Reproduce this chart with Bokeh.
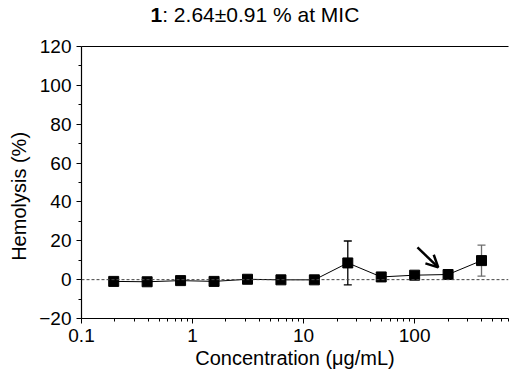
from bokeh.plotting import figure
from bokeh.layouts import column
from bokeh.models import (ColumnDataSource, Whisker, Span, Arrow, OpenHead,
                          LogAxis, FixedTicker, Range1d, TeeHead)
from bokeh.core.properties import value
from bokeh.embed import file_html
from bokeh.resources import INLINE

# ---- data ----
conc = [0.195, 0.39, 0.78, 1.5625, 3.125, 6.25, 12.5, 25, 50, 100, 200, 400]
hemolysis = [-0.9, -1.1, -0.5, -0.9, 0.2, -0.1, -0.1, 8.6, 1.4, 2.3, 2.64, 9.8]

err_conc_black = [25, 200]
err_mean_black = [8.6, 2.64]
err_sd_black = [11.3, 0.91]
err_conc_grey = [400]
err_mean_grey = [9.8]
err_sd_grey = [8.0]

arrow_x = [106, 163]
arrow_y = [16.6, 6.3]

x_major = [0.1, 1, 10, 100]
x_minor = [0.2, 0.3, 0.4, 0.5, 0.6, 0.7, 0.8, 0.9,
           2, 3, 4, 5, 6, 7, 8, 9,
           20, 30, 40, 50, 60, 70, 80, 90,
           200, 300, 400, 500, 600, 700]
x_labels = {0.1: "0.1", 1: "1", 10: "10", 100: "100"}
y_major = [-20, 0, 20, 40, 60, 80, 100, 120]
y_minor = [-10, 10, 30, 50, 70, 90, 110]

title_bold = "1"
title_rest = ": 2.64\u00b10.91 % at MIC"
x_title = "Concentration (\u03bcg/mL)"
y_title = "Hemolysis (%)"
y_title_pad = "\u00a0" * 5   # nudges the rotated label down, as in the reference

FONT = "Liberation Sans"
W, H_TITLE, H_MAIN = 510, 30, 347
FRAME_L, FRAME_R = 81, 508

# ---------------- title strip ----------------
t = figure(width=W, height=H_TITLE, x_range=Range1d(FRAME_L, FRAME_R), y_range=Range1d(0, H_TITLE),
           output_backend="svg", toolbar_location=None,
           min_border_left=0, min_border_right=0, min_border_top=0, min_border_bottom=0)
t.title = None
for a in list(t.below) + list(t.left):
    a.visible = False
t.grid.visible = False
t.outline_line_color = None
t.background_fill_color = "white"
t.border_fill_color = "white"
title_x0 = 150
title_mid = 16
t.text(x=[title_x0], y=[title_mid], text=[title_bold], text_font=value(FONT),
       text_font_size="21px", text_font_style="bold", text_color="black",
       text_baseline="middle", text_align="left")
t.text(x=[title_x0 + 11.7], y=[title_mid], text=[title_rest], text_font=value(FONT),
       text_font_size="21px", text_font_style="normal", text_color="black",
       text_baseline="middle", text_align="left")

# ---------------- main plot ----------------
p = figure(width=W, height=H_MAIN, x_axis_type="log",
           x_range=Range1d(0.1, 700), y_range=Range1d(-20, 120),
           output_backend="svg", toolbar_location=None,
           min_border_left=FRAME_L, min_border_right=W - FRAME_R,
           min_border_top=16, min_border_bottom=59)
p.outline_line_color = None
p.xgrid.visible = False
p.ygrid.visible = False
p.background_fill_color = "white"
p.border_fill_color = "white"

for ax in (p.xaxis[0], p.yaxis[0]):
    ax.axis_line_color = "black"
    ax.axis_line_width = 1.2
    ax.major_tick_line_color = "black"
    ax.minor_tick_line_color = "black"
    ax.major_tick_in = 0
    ax.major_tick_out = 5
    ax.minor_tick_in = 0
    ax.minor_tick_out = 3
    ax.major_label_text_font = FONT
    ax.major_label_text_font_size = "19px"
    ax.major_label_text_color = "black"
    ax.axis_label_text_font = FONT
    ax.axis_label_text_font_size = "20px"
    ax.axis_label_text_font_style = "normal"
    ax.axis_label_text_color = "black"

p.xaxis[0].ticker = FixedTicker(ticks=x_major, minor_ticks=x_minor)
p.xaxis[0].major_label_overrides = x_labels
p.xaxis[0].axis_label = x_title
p.xaxis[0].major_label_standoff = 5
p.xaxis[0].axis_label_standoff = 2

p.yaxis[0].ticker = FixedTicker(ticks=y_major, minor_ticks=y_minor)
p.yaxis[0].axis_label = y_title + y_title_pad
p.yaxis[0].major_label_standoff = 5
p.yaxis[0].axis_label_standoff = 6

# top frame line
top = LogAxis(ticker=FixedTicker(ticks=[]), axis_line_color="black", axis_line_width=1.2,
              major_tick_line_color=None, minor_tick_line_color=None,
              major_tick_out=0, minor_tick_out=0, major_label_standoff=0,
              major_label_text_font_size="0px")
p.add_layout(top, "above")

# zero reference line
p.add_layout(Span(location=0, dimension="width", line_color="#444444",
                  line_dash="3 2", line_width=1))

# error bars
src_b = ColumnDataSource(dict(x=err_conc_black,
                              lo=[m - s for m, s in zip(err_mean_black, err_sd_black)],
                              hi=[m + s for m, s in zip(err_mean_black, err_sd_black)]))
src_g = ColumnDataSource(dict(x=err_conc_grey,
                              lo=[m - s for m, s in zip(err_mean_grey, err_sd_grey)],
                              hi=[m + s for m, s in zip(err_mean_grey, err_sd_grey)]))
for src, col in ((src_b, "black"), (src_g, "#6e6e6e")):
    w = Whisker(source=src, base="x", lower="lo", upper="hi", line_color=col, line_width=1.3,
                upper_head=TeeHead(size=8, line_color=col, line_width=1.3),
                lower_head=TeeHead(size=8, line_color=col, line_width=1.3))
    w.level = "underlay"
    p.add_layout(w)

# data line + markers
src = ColumnDataSource(dict(x=conc, y=hemolysis))
p.line("x", "y", source=src, line_color="black", line_width=1)
p.scatter("x", "y", source=src, marker="square", size=10, fill_color="black", line_color="black")

# arrow pointing at the MIC point
p.add_layout(Arrow(end=OpenHead(size=12, line_width=2.5, line_color="black"),
                   x_start=arrow_x[0], y_start=arrow_y[0], x_end=arrow_x[1], y_end=arrow_y[1],
                   line_width=2.5, line_color="black"))

layout = column(t, p, spacing=0)
open("out.html", "w").write(file_html(layout, INLINE))
